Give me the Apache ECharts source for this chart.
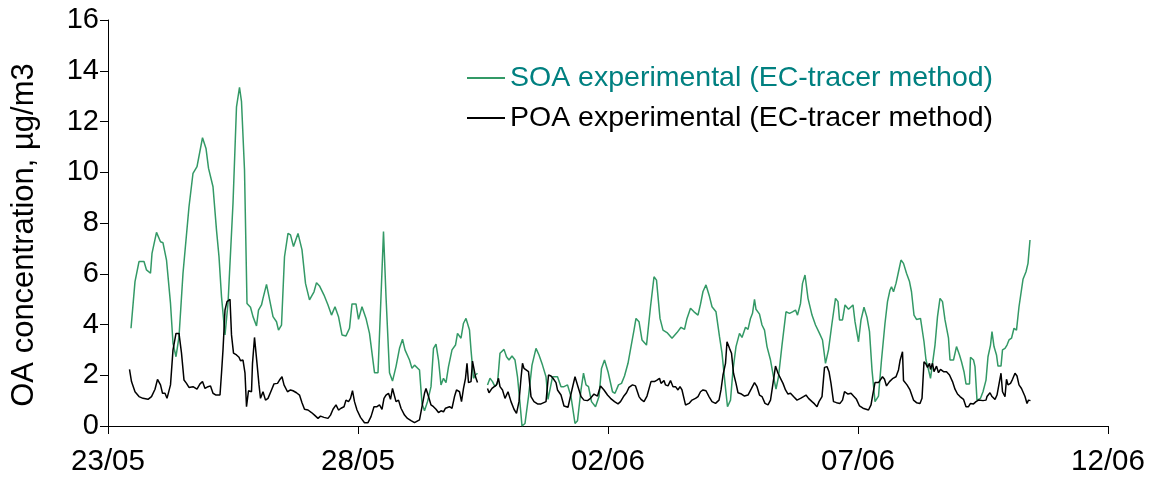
<!DOCTYPE html>
<html>
<head>
<meta charset="utf-8">
<script src="https://cdn.jsdelivr.net/npm/echarts@6/dist/echarts.min.js"></script>
<style>
html,body{margin:0;padding:0;background:#fff;}
#chart{width:1155px;height:484px;}
</style>
</head>
<body>
<div id="chart"></div>
<script>
// x values are days since 23/05 00:00
const xTickLabels = ['23/05', '28/05', '02/06', '07/06', '12/06'];
const seriesNames = ['SOA experimental (EC-tracer method)', 'POA experimental (EC-tracer method)'];
const yAxisTitle = 'OA concentration, µg/m3';

const soaData = [[0.46,3.85],[0.54,5.69],[0.62,6.48],[0.72,6.48],[0.77,6.15],[0.85,6.02],[0.88,6.80],[0.97,7.63],[1.05,7.26],[1.10,7.22],[1.17,6.54],[1.25,4.83],[1.30,3.26],[1.36,2.73],[1.42,3.52],[1.50,6.02],[1.62,8.64],[1.70,9.96],[1.78,10.22],[1.89,11.36],[1.96,10.94],[2.01,10.16],[2.10,9.43],[2.17,7.72],[2.22,6.67],[2.27,5.10],[2.34,3.59],[2.40,4.83],[2.50,8.78],[2.57,12.58],[2.63,13.35],[2.67,12.78],[2.73,10.09],[2.78,4.83],[2.85,4.68],[2.90,4.31],[2.97,3.94],[3.01,4.57],[3.07,4.77],[3.10,5.03],[3.17,5.58],[3.22,5.10],[3.30,4.31],[3.37,4.11],[3.41,3.78],[3.47,3.98],[3.53,6.67],[3.60,7.59],[3.65,7.53],[3.71,7.07],[3.80,7.59],[3.88,6.94],[3.95,5.62],[4.03,4.97],[4.12,5.29],[4.17,5.65],[4.23,5.52],[4.32,5.16],[4.40,4.77],[4.47,4.37],[4.54,4.70],[4.61,4.31],[4.68,3.59],[4.76,3.55],[4.83,3.85],[4.88,4.81],[4.96,4.81],[5.01,4.20],[5.08,4.70],[5.16,4.24],[5.23,3.65],[5.33,2.10],[5.40,2.10],[5.46,5.10],[5.51,7.66],[5.56,5.10],[5.63,2.10],[5.69,1.77],[5.76,2.34],[5.83,3.06],[5.89,3.42],[5.94,3.00],[6.03,2.60],[6.08,2.27],[6.13,2.40],[6.17,2.34],[6.23,2.21],[6.28,0.89],[6.33,0.60],[6.39,0.96],[6.46,1.55],[6.51,3.06],[6.56,3.23],[6.61,2.60],[6.66,1.62],[6.71,1.88],[6.76,1.71],[6.81,2.34],[6.88,3.00],[6.95,3.19],[6.99,3.65],[7.06,3.46],[7.11,4.05],[7.16,4.24],[7.19,4.31],[7.23,3.78],[7.26,3.00],[7.31,1.88],[7.35,2.01],[7.39,2.08],[7.49,null],[7.59,1.62],[7.64,1.88],[7.69,1.75],[7.74,1.55],[7.79,1.68],[7.84,2.87],[7.92,3.02],[7.97,2.73],[8.02,2.60],[8.08,2.76],[8.14,2.60],[8.19,1.94],[8.24,0.89],[8.28,0.0],[8.34,0.10],[8.41,1.16],[8.48,2.40],[8.56,3.06],[8.62,2.80],[8.69,2.40],[8.76,1.94],[8.80,1.05],[8.89,1.94],[8.99,1.94],[9.06,1.55],[9.12,1.55],[9.19,1.62],[9.26,1.16],[9.34,0.10],[9.39,0.21],[9.46,1.42],[9.51,2.08],[9.56,1.62],[9.61,1.55],[9.67,0.96],[9.75,0.76],[9.82,1.16],[9.87,2.27],[9.93,2.60],[10.00,2.14],[10.09,1.35],[10.14,1.29],[10.21,1.62],[10.27,1.68],[10.33,1.97],[10.40,2.47],[10.46,3.13],[10.52,3.78],[10.56,4.24],[10.62,4.11],[10.68,3.39],[10.77,3.19],[10.85,4.70],[10.92,5.88],[10.97,5.75],[11.04,4.24],[11.10,3.78],[11.18,3.68],[11.28,3.46],[11.38,3.68],[11.46,3.89],[11.53,3.81],[11.58,4.24],[11.65,4.64],[11.72,4.50],[11.80,4.37],[11.85,4.80],[11.90,5.30],[11.96,5.56],[12.03,5.10],[12.08,4.70],[12.16,4.50],[12.23,3.52],[12.28,2.87],[12.34,1.68],[12.39,0.76],[12.45,1.02],[12.50,2.21],[12.56,3.13],[12.63,3.65],[12.68,3.49],[12.75,3.89],[12.80,3.81],[12.85,4.24],[12.89,4.44],[12.93,4.99],[12.96,4.60],[13.03,4.41],[13.08,3.98],[13.13,3.78],[13.18,3.13],[13.25,2.60],[13.31,1.94],[13.36,1.45],[13.41,1.94],[13.48,3.19],[13.56,4.50],[13.63,4.44],[13.69,4.50],[13.75,4.57],[13.79,4.37],[13.85,4.83],[13.89,5.62],[13.94,5.95],[14.00,5.03],[14.08,4.37],[14.15,3.98],[14.23,3.65],[14.29,3.39],[14.35,2.47],[14.41,3.00],[14.48,4.05],[14.55,5.03],[14.60,4.90],[14.63,4.18],[14.69,4.18],[14.74,4.77],[14.81,4.60],[14.90,4.77],[14.94,4.11],[15.01,3.32],[15.06,4.18],[15.12,4.68],[15.18,4.28],[15.23,3.72],[15.28,2.21],[15.34,0.96],[15.41,1.18],[15.47,2.60],[15.54,4.05],[15.59,4.90],[15.64,5.36],[15.67,5.49],[15.71,5.29],[15.76,5.62],[15.81,6.08],[15.86,6.54],[15.91,6.41],[15.97,6.02],[16.03,5.69],[16.07,5.29],[16.12,4.37],[16.17,4.20],[16.25,4.24],[16.29,4.20],[16.32,3.32],[16.36,2.60],[16.41,2.21],[16.45,1.88],[16.49,1.88],[16.54,3.19],[16.59,4.31],[16.64,5.03],[16.69,4.90],[16.74,4.18],[16.81,3.46],[16.84,2.60],[16.91,2.60],[16.97,3.13],[17.03,2.80],[17.07,2.53],[17.12,2.14],[17.16,1.66],[17.23,1.66],[17.25,2.71],[17.31,2.60],[17.34,2.34],[17.38,1.02],[17.45,1.09],[17.50,1.35],[17.56,1.81],[17.60,2.73],[17.65,3.19],[17.68,3.72],[17.72,3.13],[17.77,2.80],[17.80,2.36],[17.86,2.36],[17.89,3.00],[17.94,3.06],[17.98,3.19],[18.02,3.39],[18.07,3.46],[18.12,3.85],[18.17,3.78],[18.22,4.70],[18.30,5.78],[18.36,6.08],[18.40,6.41],[18.44,7.33]];

const poaData = [[0.43,2.23],[0.47,1.75],[0.54,1.35],[0.62,1.16],[0.70,1.09],[0.80,1.05],[0.87,1.16],[0.94,1.45],[0.99,1.84],[1.05,1.62],[1.09,1.29],[1.14,1.29],[1.18,1.09],[1.25,1.62],[1.30,3.00],[1.36,3.65],[1.42,3.65],[1.47,2.87],[1.52,1.81],[1.57,1.68],[1.62,1.52],[1.70,1.55],[1.78,1.45],[1.84,1.66],[1.89,1.75],[1.94,1.48],[2.00,1.55],[2.05,1.58],[2.10,1.29],[2.16,1.22],[2.20,1.29],[2.24,1.22],[2.27,2.08],[2.30,3.00],[2.34,4.57],[2.38,4.90],[2.44,4.99],[2.47,3.59],[2.51,2.87],[2.57,2.80],[2.62,2.71],[2.65,2.57],[2.70,2.60],[2.74,2.08],[2.77,0.76],[2.81,1.39],[2.87,1.35],[2.89,2.47],[2.93,3.49],[2.98,2.47],[3.02,1.62],[3.05,1.09],[3.10,1.35],[3.15,1.02],[3.20,1.09],[3.27,1.42],[3.32,1.66],[3.39,1.68],[3.43,1.81],[3.48,1.94],[3.52,1.62],[3.59,1.35],[3.65,1.42],[3.70,1.39],[3.77,1.31],[3.83,1.22],[3.88,0.92],[3.93,0.66],[4.00,0.63],[4.07,0.53],[4.13,0.43],[4.20,0.30],[4.25,0.39],[4.32,0.34],[4.40,0.30],[4.45,0.43],[4.50,0.66],[4.56,0.83],[4.61,0.63],[4.66,0.70],[4.72,0.76],[4.76,1.02],[4.81,0.96],[4.85,1.09],[4.89,1.39],[4.93,0.96],[4.98,0.63],[5.05,0.34],[5.13,0.13],[5.20,0.13],[5.26,0.37],[5.32,0.76],[5.38,0.76],[5.43,0.83],[5.48,0.66],[5.52,1.09],[5.56,1.22],[5.61,1.29],[5.65,1.05],[5.69,1.48],[5.73,1.52],[5.76,0.96],[5.81,1.02],[5.86,0.70],[5.93,0.43],[5.99,0.30],[6.06,0.21],[6.13,0.13],[6.16,0.13],[6.23,0.24],[6.28,0.76],[6.33,1.29],[6.36,1.48],[6.41,1.16],[6.46,0.83],[6.51,0.76],[6.56,0.66],[6.61,0.53],[6.66,0.60],[6.71,0.56],[6.75,0.70],[6.79,0.66],[6.83,0.76],[6.88,0.70],[6.93,1.16],[6.97,1.42],[7.03,1.35],[7.07,0.96],[7.11,1.48],[7.15,1.88],[7.18,2.47],[7.21,1.71],[7.26,1.75],[7.29,2.56],[7.33,2.14],[7.35,1.94],[7.39,1.71],[7.49,null],[7.59,1.48],[7.62,1.31],[7.68,1.48],[7.72,1.55],[7.77,1.62],[7.81,1.88],[7.84,1.55],[7.89,1.42],[7.94,1.09],[8.00,1.35],[8.06,0.96],[8.12,0.66],[8.17,0.50],[8.22,0.96],[8.26,1.88],[8.29,2.47],[8.32,2.27],[8.36,2.34],[8.41,2.14],[8.46,1.16],[8.52,0.96],[8.59,0.87],[8.66,0.87],[8.70,0.92],[8.76,0.96],[8.81,2.01],[8.86,1.97],[8.90,1.88],[8.96,1.71],[8.99,1.42],[9.06,1.22],[9.12,0.79],[9.20,0.74],[9.27,1.35],[9.34,1.94],[9.40,1.55],[9.46,1.16],[9.52,1.02],[9.59,1.00],[9.65,1.09],[9.72,1.26],[9.79,1.18],[9.85,1.58],[9.92,1.42],[9.99,1.22],[10.05,1.09],[10.13,0.96],[10.20,0.87],[10.25,0.96],[10.31,1.16],[10.37,1.31],[10.42,1.52],[10.49,1.62],[10.55,1.58],[10.62,1.16],[10.66,1.05],[10.72,0.96],[10.78,1.18],[10.86,1.75],[10.93,1.75],[10.98,1.81],[11.03,1.88],[11.06,1.68],[11.12,1.79],[11.15,1.62],[11.20,1.58],[11.25,1.79],[11.30,1.55],[11.35,1.55],[11.40,1.42],[11.44,1.55],[11.48,1.42],[11.55,0.83],[11.62,0.89],[11.68,1.02],[11.75,1.09],[11.80,1.16],[11.85,1.35],[11.90,1.42],[11.96,1.39],[12.02,1.16],[12.08,0.96],[12.15,0.89],[12.22,1.02],[12.26,1.42],[12.30,2.01],[12.35,2.47],[12.38,3.32],[12.43,3.06],[12.47,2.87],[12.51,2.08],[12.56,1.68],[12.60,1.31],[12.67,1.26],[12.73,1.18],[12.80,1.22],[12.87,1.48],[12.93,1.71],[12.98,1.55],[13.03,1.22],[13.08,1.16],[13.14,0.89],[13.20,0.83],[13.25,1.02],[13.30,1.68],[13.35,2.36],[13.40,2.08],[13.45,1.88],[13.50,1.68],[13.55,1.42],[13.60,1.26],[13.65,1.29],[13.71,1.16],[13.78,1.02],[13.85,1.09],[13.91,1.16],[13.96,1.22],[14.01,1.09],[14.08,0.96],[14.13,0.87],[14.18,0.76],[14.22,0.96],[14.28,1.16],[14.33,2.31],[14.38,2.34],[14.42,2.14],[14.46,1.68],[14.51,0.96],[14.57,0.92],[14.64,0.89],[14.69,1.02],[14.73,1.35],[14.80,1.26],[14.86,1.29],[14.91,1.18],[14.97,1.05],[15.03,0.79],[15.10,0.70],[15.14,0.63],[15.21,0.63],[15.26,0.83],[15.30,1.29],[15.34,1.71],[15.41,1.71],[15.44,1.75],[15.49,1.94],[15.53,1.84],[15.57,1.58],[15.63,1.75],[15.70,1.88],[15.76,1.94],[15.81,2.21],[15.84,2.57],[15.89,2.93],[15.91,1.79],[15.98,1.62],[16.04,1.42],[16.11,1.02],[16.17,0.92],[16.24,0.89],[16.28,1.09],[16.32,2.53],[16.36,2.44],[16.39,2.31],[16.43,2.47],[16.45,2.23],[16.49,2.47],[16.52,2.14],[16.57,2.36],[16.61,2.10],[16.65,2.23],[16.71,2.14],[16.77,2.14],[16.83,2.01],[16.89,1.75],[16.94,1.45],[16.99,1.26],[17.04,1.16],[17.11,1.05],[17.16,0.76],[17.21,0.76],[17.25,0.89],[17.31,0.87],[17.36,0.96],[17.41,1.02],[17.45,1.09],[17.50,1.00],[17.56,1.02],[17.58,1.16],[17.64,1.31],[17.68,1.16],[17.74,1.05],[17.78,1.22],[17.82,1.16],[17.86,2.08],[17.89,1.35],[17.94,1.16],[17.97,1.84],[18.00,1.62],[18.05,1.68],[18.09,1.84],[18.14,2.08],[18.18,1.97],[18.22,1.62],[18.27,1.48],[18.30,1.42],[18.34,1.16],[18.38,0.89],[18.41,1.02],[18.45,1.00]];

const FONT = 'Liberation Sans, Arial, sans-serif';
const toSeries = arr => arr.map(p => [p[0], p[1] === null ? '-' : p[1]]);

const chart = echarts.init(document.getElementById('chart'), null, {renderer: 'canvas'});
chart.setOption({
  animation: false,
  backgroundColor: '#ffffff',
  grid: {left: 108, right: 47, top: 20, bottom: 58, containLabel: false},
  legend: {
    orient: 'vertical',
    left: 462,
    top: 58,
    itemWidth: 38,
    itemHeight: 2,
    itemGap: 10,
    icon: 'rect',
    selectedMode: false,
    textStyle: {fontFamily: FONT, fontSize: 28.5, lineHeight: 30, color: '#000'},
    data: [
      {name: seriesNames[0], textStyle: {color: '#008080'}},
      {name: seriesNames[1], textStyle: {color: '#000000'}}
    ]
  },
  xAxis: {
    type: 'value',
    min: 0, max: 20, interval: 5,
    axisLine: {show: true, onZero: false, lineStyle: {color: '#000', width: 1}},
    axisTick: {show: true, inside: false, length: 8, lineStyle: {color: '#000'}},
    splitLine: {show: false},
    axisLabel: {
      fontFamily: FONT, fontSize: 29.5, color: '#000', margin: 21,
      formatter: v => xTickLabels[Math.round(v / 5)]
    }
  },
  yAxis: {
    type: 'value',
    min: 0, max: 16, interval: 2,
    axisLine: {show: true, lineStyle: {color: '#000', width: 1}},
    axisTick: {show: true, inside: false, length: 8, lineStyle: {color: '#000'}},
    splitLine: {show: false},
    axisLabel: {fontFamily: FONT, fontSize: 29, color: '#000', margin: 9}
  },
  graphic: [{
    type: 'text',
    x: 24, y: 235,
    rotation: Math.PI / 2,
    style: {
      text: yAxisTitle, fontFamily: FONT, fontSize: 31, fill: '#000',
      align: 'center', verticalAlign: 'middle'
    }
  }],
  series: [
    {
      name: seriesNames[0], type: 'line', data: toSeries(soaData),
      showSymbol: false, connectNulls: false, color: '#339966',
      lineStyle: {width: 1.5, color: '#339966'}
    },
    {
      name: seriesNames[1], type: 'line', data: toSeries(poaData),
      showSymbol: false, connectNulls: false, color: '#000000',
      lineStyle: {width: 1.5, color: '#000000'}
    }
  ]
});
</script>
</body>
</html>
